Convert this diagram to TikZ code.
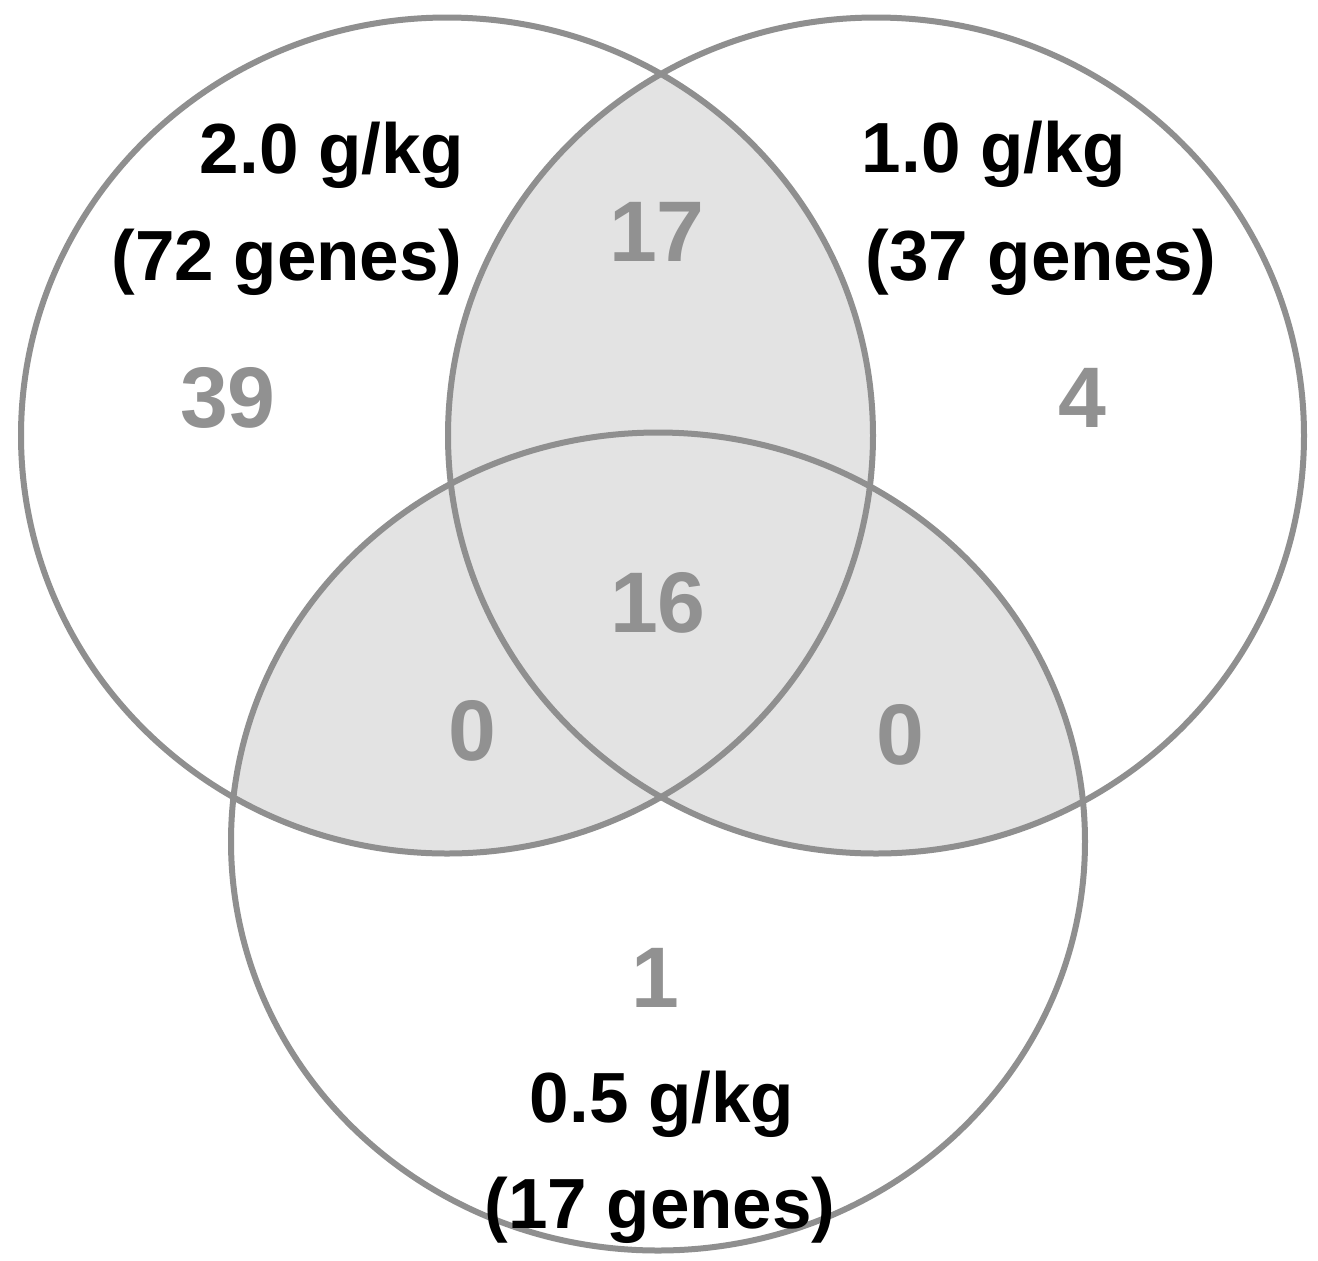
\documentclass[tikz,border=0pt]{standalone}
\usepackage{fontspec}
\setmainfont{Liberation Sans}
\begin{document}
\begin{tikzpicture}[x=0.5pt,y=-0.5pt,
  ring/.style={draw=ringgray,line width=3pt},
  dose/.style={font=\fontsize{35.5}{40}\selectfont\bfseries,text=black,anchor=base,inner sep=0pt},
  count/.style={font=\fontsize{43}{48}\selectfont\bfseries,text=numgray,inner sep=0pt}]
\definecolor{ringgray}{HTML}{8F8F8F}
\definecolor{numgray}{HTML}{919191}
\definecolor{lapgray}{HTML}{E3E3E3}
\useasboundingbox (0,0) rectangle (1318,1260);
\fill[white] (0,0) rectangle (1318,1260);
% the three dose sets
\def\setA{(447,435.5) ellipse [x radius=213pt, y radius=209pt]}
\def\setB{(876,435.5) ellipse [x radius=214pt, y radius=209pt]}
\def\setC{(658,841.5) ellipse [x radius=213.5pt, y radius=204.5pt]}
% shared genes: pairwise overlaps shaded
\begin{scope}\clip \setA; \fill[lapgray] \setB; \end{scope}
\begin{scope}\clip \setA; \fill[lapgray] \setC; \end{scope}
\begin{scope}\clip \setB; \fill[lapgray] \setC; \end{scope}
\draw[ring] \setA;
\draw[ring] \setB;
\draw[ring] \setC;
% set labels
\node[dose] (la1) at (332,173) {2.0 g/kg};
\node[dose] (la2) at (287,280) {(72 genes)};
\node[dose] (lb1) at (994,172) {1.0 g/kg};
\node[dose] (lb2) at (1041,280) {(37 genes)};
\node[dose] (lc1) at (662,1122) {0.5 g/kg};
\node[dose] (lc2) at (660,1228) {(17 genes)};
% region counts
\node[count] (nA)   at (228,398) {39};
\node[count] (nB)   at (1082,398) {4};
\node[count] (nAB)  at (657,232) {17};
\node[count] (nABC) at (658,603) {16};
\node[count] (nAC)  at (472,731) {0};
\node[count] (nBC)  at (900,735) {0};
\node[count] (nC)   at (655,978) {1};
\end{tikzpicture}
\end{document}
